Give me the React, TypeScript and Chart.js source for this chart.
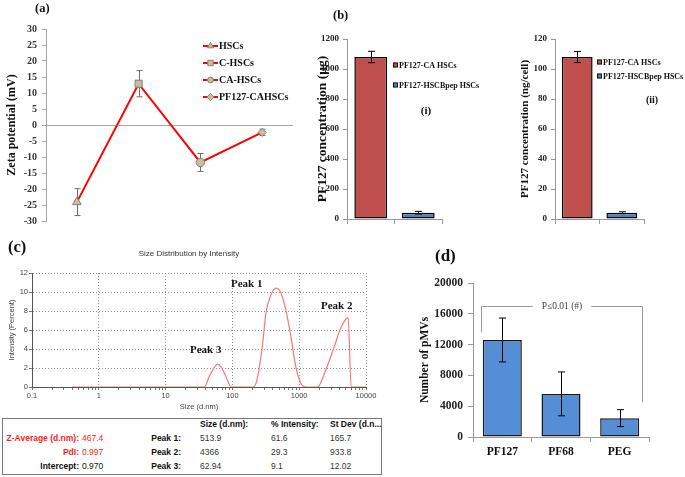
import React, { useEffect, useRef } from 'react';
import { Chart, registerables } from 'chart.js';

Chart.register(...registerables);

const SERIF = "'Liberation Serif', 'Times New Roman', Times, serif";
const SANS = "'Liberation Sans', Arial, Helvetica, sans-serif";

// ---------- (a) Zeta potential ----------
const zetaCategories = ['HSCs', 'C-HSCs', 'CA-HSCs', 'PF127-CAHSCs'];
const zetaValues = [-24.1, 12.9, -11.7, -2.3];
const zetaErrors = [4.2, 4.1, 2.8, 1.0];
const zetaMarkers = ['triangle', 'rect', 'circle', 'rectRot'];

// ---------- (b) PF127 concentration ----------
const pf127Groups = ['PF127-CA HSCs', 'PF127-HSCBpep HSCs'];
const pf127Micrograms = [1080, 42];
const pf127MicrogramsErr = [38, 9];
const pf127PerCell = [108, 4.2];
const pf127PerCellErr = [3.7, 0.6];
const pf127Colors = ['#c0504d', '#4f81bd'];

// ---------- (c) Size distribution by intensity ----------
const sizeNm = [0.4, 38, 45, 54, 60, 68, 80, 96, 208, 239, 284, 318, 378, 449, 532, 632, 751, 892, 1059, 1259, 1880, 2500, 3330, 4190, 5400, 6000, 10000];
const intensityPct = [0, 0, 1.1, 2.1, 2.4, 2.1, 1.1, 0, 0, 1.1, 4.6, 7.8, 9.7, 10.4, 9.9, 8.1, 5.3, 2.1, 0.4, 0, 0, 1.8, 4.2, 6.2, 7.3, 0, 0];
const sizeAxisLabels = [0.1, 1, 10, 100, 1000, 10000];
const summaryLabels = ['Z-Average (d.nm):', 'PdI:', 'Intercept:'];
const summaryValues = ['467.4', '0.997', '0.970'];
const peakNames = ['Peak 1:', 'Peak 2:', 'Peak 3:'];
const peakSizes = ['513.9', '4366', '62.94'];
const peakIntensities = ['61.6', '29.3', '9.1'];
const peakStDevs = ['165.7', '933.8', '12.02'];
const tableHeaders = ['Size (d.nm):', '% Intensity:', 'St Dev (d.n...'];

// ---------- (d) Number of pMVs ----------
const pmvGroups = ['PF127', 'PF68', 'PEG'];
const pmvCounts = [12600, 5600, 2450];
const pmvErrors = [2850, 2850, 1100];
const pmvSigLevel = 17000;
const pmvSigLeftEnd = 13600;
const pmvSigRightEnd = 4500;
const pmvSigText = 'P\u22640.01 (#)';

// ---------- helpers ----------
function drawMarker(ctx: CanvasRenderingContext2D, style: string, x: number, y: number, r: number, fill: string, stroke: string) {
  ctx.save();
  ctx.beginPath();
  if (style === 'triangle') {
    ctx.moveTo(x, y - r);
    ctx.lineTo(x + r * 0.866, y + r * 0.5);
    ctx.lineTo(x - r * 0.866, y + r * 0.5);
    ctx.closePath();
  } else if (style === 'rect') {
    const s = r * 0.75;
    ctx.rect(x - s, y - s, 2 * s, 2 * s);
  } else if (style === 'circle') {
    ctx.arc(x, y, r * 0.8, 0, Math.PI * 2);
  } else {
    ctx.moveTo(x, y - r);
    ctx.lineTo(x + r, y);
    ctx.lineTo(x, y + r);
    ctx.lineTo(x - r, y);
    ctx.closePath();
  }
  ctx.fillStyle = fill;
  ctx.fill();
  ctx.strokeStyle = stroke;
  ctx.lineWidth = 1;
  ctx.stroke();
  ctx.restore();
}

function makeErrorBars(id: string, errors: number[], color: string, cap: number, width: number, before: boolean) {
  const draw = (chart: any) => {
    const meta = chart.getDatasetMeta(0);
    const ys = chart.scales.y;
    const data = chart.data.datasets[0].data as number[];
    const ctx = chart.ctx as CanvasRenderingContext2D;
    ctx.save();
    ctx.strokeStyle = color;
    ctx.lineWidth = width;
    meta.data.forEach((el: any, i: number) => {
      const v = data[i];
      const e = errors[i];
      const x = Math.round(el.x) + 0.5;
      const yt = ys.getPixelForValue(v + e);
      const yb = ys.getPixelForValue(v - e);
      ctx.beginPath();
      ctx.moveTo(x, yt);
      ctx.lineTo(x, yb);
      ctx.moveTo(x - cap / 2, yt);
      ctx.lineTo(x + cap / 2, yt);
      ctx.moveTo(x - cap / 2, yb);
      ctx.lineTo(x + cap / 2, yb);
      ctx.stroke();
    });
    ctx.restore();
  };
  return before
    ? { id, beforeDatasetsDraw: draw }
    : { id, afterDatasetsDraw: draw };
}

function makeLineLegend(id: string, labels: string[], markers: string[], x: number, y0: number, dy: number) {
  return {
    id,
    afterDraw(chart: any) {
      const ctx = chart.ctx as CanvasRenderingContext2D;
      ctx.save();
      ctx.font = `bold 10px ${SERIF}`;
      ctx.textBaseline = 'middle';
      labels.forEach((t, i) => {
        const y = y0 + i * dy;
        ctx.strokeStyle = '#ff0000';
        ctx.lineWidth = 2;
        ctx.beginPath();
        ctx.moveTo(x, y);
        ctx.lineTo(x + 15, y);
        ctx.stroke();
        drawMarker(ctx, markers[i], x + 7.5, y, 3.6, '#c9bf98', '#7f7f7f');
        ctx.fillStyle = '#111';
        ctx.fillText(t, x + 16, y + 0.5);
      });
      ctx.restore();
    },
  };
}

function makeBoxLegend(id: string, labels: string[], colors: string[], x: number, y0: number, dy: number) {
  return {
    id,
    afterDraw(chart: any) {
      const ctx = chart.ctx as CanvasRenderingContext2D;
      ctx.save();
      ctx.font = `bold 8px ${SERIF}`;
      ctx.textBaseline = 'middle';
      labels.forEach((t, i) => {
        const y = y0 + i * dy;
        ctx.fillStyle = colors[i];
        ctx.fillRect(x, y - 2.5, 5, 5);
        ctx.strokeStyle = '#000';
        ctx.lineWidth = 0.8;
        ctx.strokeRect(x + 0.5, y - 2, 4, 4);
        ctx.fillStyle = '#111';
        ctx.fillText(t, x + 6, y + 0.5);
      });
      ctx.restore();
    },
  };
}

const sigBracketPlugin = {
  id: 'sigBracket',
  afterDatasetsDraw(chart: any) {
    const meta = chart.getDatasetMeta(0);
    const ys = chart.scales.y;
    const ctx = chart.ctx as CanvasRenderingContext2D;
    const b0 = meta.data[0];
    const b2 = meta.data[meta.data.length - 1];
    const x0 = Math.round(b0.x - b0.width / 2 - 2) + 0.5;
    const x1 = Math.round(b2.x + b2.width / 2 + 3) + 0.5;
    const yl = Math.round(ys.getPixelForValue(pmvSigLevel)) + 0.5;
    const yL = ys.getPixelForValue(pmvSigLeftEnd);
    const yR = ys.getPixelForValue(pmvSigRightEnd);
    ctx.save();
    ctx.font = `9.5px ${SERIF}`;
    const tw = ctx.measureText(pmvSigText).width;
    const cx = (x0 + x1) / 2;
    ctx.strokeStyle = '#9a9a9a';
    ctx.lineWidth = 1;
    ctx.beginPath();
    ctx.moveTo(x0, yL);
    ctx.lineTo(x0, yl);
    ctx.lineTo(cx - tw / 2 - 9, yl);
    ctx.moveTo(cx + tw / 2 + 9, yl);
    ctx.lineTo(x1, yl);
    ctx.lineTo(x1, yR);
    ctx.stroke();
    ctx.fillStyle = '#404040';
    ctx.textAlign = 'center';
    ctx.textBaseline = 'middle';
    ctx.fillText(pmvSigText, cx, yl);
    ctx.restore();
  },
};

const isDecade = (v: number) => {
  if (!v || v <= 0) return false;
  const l = Math.log10(v);
  return Math.abs(l - Math.round(l)) < 1e-6;
};

const plainTick = (v: any) => String(v);

function ChartBox({ left, top, width, height, build }: { left: number; top: number; width: number; height: number; build: () => any }) {
  const ref = useRef<HTMLCanvasElement | null>(null);
  useEffect(() => {
    const chart = new Chart(ref.current as HTMLCanvasElement, build());
    return () => chart.destroy();
  }, []);
  return (
    <canvas
      ref={ref}
      width={width}
      height={height}
      style={{ position: 'absolute', left, top, width, height }}
    />
  );
}

function Txt({ x, y, text, size, bold, color, family, anchor }: { x: number; y: number; text: string; size: number; bold?: boolean; color?: string; family?: string; anchor?: 'start' | 'middle' | 'end' }) {
  const tx = anchor === 'middle' ? '-50%' : anchor === 'end' ? '-100%' : '0';
  return (
    <div
      style={{
        position: 'absolute',
        left: x,
        top: y,
        transform: `translate(${tx}, -50%)`,
        fontFamily: family || SERIF,
        fontSize: size,
        fontWeight: bold ? 'bold' : 'normal',
        color: color || '#111',
        lineHeight: 1,
        whiteSpace: 'nowrap',
      }}
    >
      {text}
    </div>
  );
}

const baseOpts = {
  animation: false,
  responsive: false,
  maintainAspectRatio: false,
  devicePixelRatio: 1,
  events: [] as any[],
};

function buildZeta() {
  return {
    type: 'line',
    data: {
      labels: zetaCategories,
      datasets: [
        {
          data: zetaValues,
          borderColor: '#ff0000',
          borderWidth: 2,
          tension: 0,
          pointStyle: zetaMarkers,
          pointRadius: [5, 5, 4.2, 4],
          pointBackgroundColor: '#c9bf98',
          pointBorderColor: '#7f7f7f',
          pointBorderWidth: 1,
        },
      ],
    },
    options: {
      ...baseOpts,
      layout: { padding: { left: 1, top: 29, right: 8, bottom: 8 } },
      plugins: { legend: { display: false }, tooltip: { enabled: false } },
      scales: {
        x: { type: 'category', offset: true, display: false },
        y: {
          min: -30,
          max: 30,
          ticks: { stepSize: 5, color: '#333', padding: 5, font: { family: SERIF, size: 10, weight: 'bold' }, callback: plainTick },
          grid: {
            color: (c: any) => (c.tick && c.tick.value === 0 ? '#a6a6a6' : 'rgba(0,0,0,0)'),
            tickColor: '#a6a6a6',
            tickLength: 4,
          },
          border: { color: '#a6a6a6' },
          title: {
            display: true,
            text: 'Zeta potential (mV)',
            color: '#111',
            font: { family: SERIF, size: 12, weight: 'bold' },
            padding: { top: 3.8, bottom: 0 },
          },
          afterFit: (s: any) => {
            s.width = 45;
          },
        },
      },
    },
    plugins: [
      makeErrorBars('zetaErr', zetaErrors, '#707070', 6, 1, true),
      makeLineLegend('zetaLegend', zetaCategories, zetaMarkers, 203, 46, 17),
    ],
  };
}

function buildPf127(values: number[], errors: number[], max: number, step: number, title: string, titleSize: number, titlePad: number, axisWidth: number, padRight: number, legendX: number, legendY: number, legendDy: number, barPct: number) {
  return {
    type: 'bar',
    data: {
      labels: pf127Groups,
      datasets: [
        {
          data: values,
          backgroundColor: pf127Colors,
          borderColor: '#000',
          borderWidth: 1.5,
          borderSkipped: false,
          barPercentage: barPct,
          categoryPercentage: 1,
        },
      ],
    },
    options: {
      ...baseOpts,
      layout: { padding: { left: 0, top: 39, right: padRight, bottom: 7 } },
      plugins: { legend: { display: false }, tooltip: { enabled: false } },
      scales: {
        x: {
          ticks: { display: false },
          grid: { offset: true, drawOnChartArea: false, tickLength: 5, tickColor: '#999' },
          border: { color: '#999' },
          afterFit: (s: any) => {
            s.height = 6;
          },
        },
        y: {
          min: 0,
          max,
          ticks: { stepSize: step, color: '#222', padding: 4, font: { family: SERIF, size: 9, weight: 'bold' }, callback: plainTick },
          grid: { drawOnChartArea: false, tickLength: 4, tickColor: '#999' },
          border: { color: '#999' },
          title: {
            display: true,
            text: title,
            color: '#111',
            font: { family: SERIF, size: titleSize, weight: 'bold' },
            padding: { top: titlePad, bottom: 0 },
          },
          afterFit: (s: any) => {
            s.width = axisWidth;
          },
        },
      },
    },
    plugins: [
      makeErrorBars('pfErr' + axisWidth, errors, '#000', 7, 1, false),
      makeBoxLegend('pfLegend' + axisWidth, pf127Groups, pf127Colors, legendX, legendY, legendDy),
    ],
  };
}

function buildSize() {
  return {
    type: 'line',
    data: {
      datasets: [
        {
          data: sizeNm.map((x, i) => ({ x, y: intensityPct[i] })),
          borderColor: '#ff7575',
          borderWidth: 1.2,
          pointRadius: 0,
          cubicInterpolationMode: 'monotone',
          fill: false,
        },
      ],
    },
    options: {
      ...baseOpts,
      layout: { padding: { left: 0, top: 41, right: 24, bottom: 0 } },
      plugins: { legend: { display: false }, tooltip: { enabled: false } },
      scales: {
        x: {
          type: 'logarithmic',
          min: 0.1,
          max: 10000,
          afterBuildTicks: (s: any) => {
            s.ticks = s.ticks.filter((t: any) => {
              const m = t.value / Math.pow(10, Math.floor(Math.log10(t.value) + 1e-9));
              return Math.abs(m - Math.round(m)) < 1e-6;
            });
          },
          ticks: {
            autoSkip: false,
            maxRotation: 0,
            padding: 1,
            color: '#444',
            font: { family: SANS, size: 7.5 },
            callback: (v: any) => (sizeAxisLabels.some((d) => Math.abs(d - Number(v)) < 1e-9) ? String(v) : ''),
          },
          grid: {
            color: (c: any) => (c.tick && isDecade(c.tick.value) ? '#8c8c8c' : 'rgba(0,0,0,0)'),
            tickColor: '#777',
            tickLength: 3,
          },
          border: { color: '#555', dash: [1, 2] },
          title: {
            display: true,
            text: 'Size (d.nm)',
            color: '#444',
            font: { family: SANS, size: 7.5 },
            padding: { top: 0, bottom: 6.5 },
          },
          afterFit: (s: any) => {
            s.height = 31;
          },
        },
        y: {
          min: 0,
          max: 12,
          ticks: {
            stepSize: 1,
            padding: 1,
            color: '#444',
            font: { family: SANS, size: 7.5 },
            callback: (v: any) => (Number(v) % 2 === 0 ? String(v) : ''),
          },
          grid: {
            color: (c: any) => (c.tick && c.tick.value % 2 === 0 ? '#8c8c8c' : 'rgba(0,0,0,0)'),
            tickColor: '#777',
            tickLength: 3,
          },
          border: { color: '#555', dash: [1, 2] },
          title: {
            display: true,
            text: 'Intensity (Percent)',
            color: '#444',
            font: { family: SANS, size: 7.5 },
            padding: { top: 7.5, bottom: 0 },
          },
          afterFit: (s: any) => {
            s.width = 32;
          },
        },
      },
    },
  };
}

function buildPmv() {
  return {
    type: 'bar',
    data: {
      labels: pmvGroups,
      datasets: [
        {
          data: pmvCounts,
          backgroundColor: '#558ed5',
          borderColor: '#1a1a1a',
          borderWidth: 1.5,
          borderSkipped: false,
          barPercentage: 0.665,
          categoryPercentage: 1,
        },
      ],
    },
    options: {
      ...baseOpts,
      layout: { padding: { left: 0, top: 51, right: 36, bottom: 0 } },
      plugins: { legend: { display: false }, tooltip: { enabled: false } },
      scales: {
        x: {
          ticks: { color: '#111', padding: 3, font: { family: SERIF, size: 11.5, weight: 'bold' } },
          grid: { offset: true, drawOnChartArea: false, tickLength: 5, tickColor: '#999' },
          border: { color: '#999' },
          afterFit: (s: any) => {
            s.height = 40;
          },
        },
        y: {
          min: 0,
          max: 20000,
          ticks: { stepSize: 4000, color: '#222', padding: 5, font: { family: SERIF, size: 11.5, weight: 'bold' }, callback: plainTick },
          grid: { drawOnChartArea: false, tickLength: 5, tickColor: '#999' },
          border: { color: '#999' },
          title: {
            display: true,
            text: 'Number of pMVs',
            color: '#111',
            font: { family: SERIF, size: 11.5, weight: 'bold' },
            padding: { top: 18, bottom: 0 },
          },
          afterFit: (s: any) => {
            s.width = 73;
          },
        },
      },
    },
    plugins: [makeErrorBars('pmvErr', pmvErrors, '#000', 7, 1, false), sigBracketPlugin],
  };
}

export default function App() {
  const red = '#ff2020';
  const rowY = [438, 452, 466];
  return (
    <div style={{ position: 'absolute', left: 0, top: 0, width: 685, height: 477, background: '#fff', overflow: 'hidden' }}>
      <ChartBox left={0} top={0} width={301} height={232} build={buildZeta} />
      <ChartBox
        left={290}
        top={0}
        width={200}
        height={232}
        build={() => buildPf127(pf127Micrograms, pf127MicrogramsErr, 1200, 200, 'PF127 concentration (\u00b5g)', 13.5, 24, 57, 48, 103, 65, 20, 0.69)}
      />
      <ChartBox
        left={490}
        top={0}
        width={195}
        height={232}
        build={() => buildPf127(pf127PerCell, pf127PerCellErr, 120, 20, 'PF127 concentration (ng/cell)', 11, 28.4, 65, 41, 107, 62, 14, 0.69)}
      />
      <ChartBox left={0} top={232} width={390} height={186} build={buildSize} />
      <ChartBox left={400} top={232} width={285} height={245} build={buildPmv} />

      <Txt x={35} y={8} text="(a)" size={12.5} bold />
      <Txt x={333} y={15} text="(b)" size={12.5} bold />
      <Txt x={8} y={247} text="(c)" size={16.5} bold />
      <Txt x={435} y={255} text="(d)" size={17} bold />
      <Txt x={426} y={110} text="(i)" size={11} bold anchor="middle" />
      <Txt x={652} y={100} text="(ii)" size={10} bold anchor="middle" />

      <Txt x={189} y={254} text="Size Distribution by Intensity" size={8} family={SANS} color="#333" anchor="middle" />
      <Txt x={231} y={283} text="Peak 1" size={11} bold />
      <Txt x={321} y={305} text="Peak 2" size={11} bold />
      <Txt x={190} y={349} text="Peak 3" size={11} bold />

      <div style={{ position: 'absolute', left: 2, top: 418, width: 380, height: 57, border: '1px solid #777', boxSizing: 'border-box' }} />
      <Txt x={200} y={424} text={tableHeaders[0]} size={8.5} bold family={SANS} />
      <Txt x={271} y={424} text={tableHeaders[1]} size={8.5} bold family={SANS} />
      <Txt x={330} y={424} text={tableHeaders[2]} size={8.5} bold family={SANS} />
      {summaryLabels.map((t, i) => (
        <Txt key={'sl' + i} x={79} y={rowY[i]} text={t} size={8.5} bold family={SANS} color={i < 2 ? red : '#111'} anchor="end" />
      ))}
      {summaryValues.map((t, i) => (
        <Txt key={'sv' + i} x={82} y={rowY[i]} text={t} size={8.5} family={SANS} color={i < 2 ? red : '#111'} />
      ))}
      {peakNames.map((t, i) => (
        <Txt key={'pn' + i} x={181} y={rowY[i]} text={t} size={8.5} bold family={SANS} anchor="end" />
      ))}
      {peakSizes.map((t, i) => (
        <Txt key={'ps' + i} x={200} y={rowY[i]} text={t} size={8.5} family={SANS} color="#333" />
      ))}
      {peakIntensities.map((t, i) => (
        <Txt key={'pi' + i} x={271} y={rowY[i]} text={t} size={8.5} family={SANS} color="#333" />
      ))}
      {peakStDevs.map((t, i) => (
        <Txt key={'pd' + i} x={330} y={rowY[i]} text={t} size={8.5} family={SANS} color="#333" />
      ))}
    </div>
  );
}
